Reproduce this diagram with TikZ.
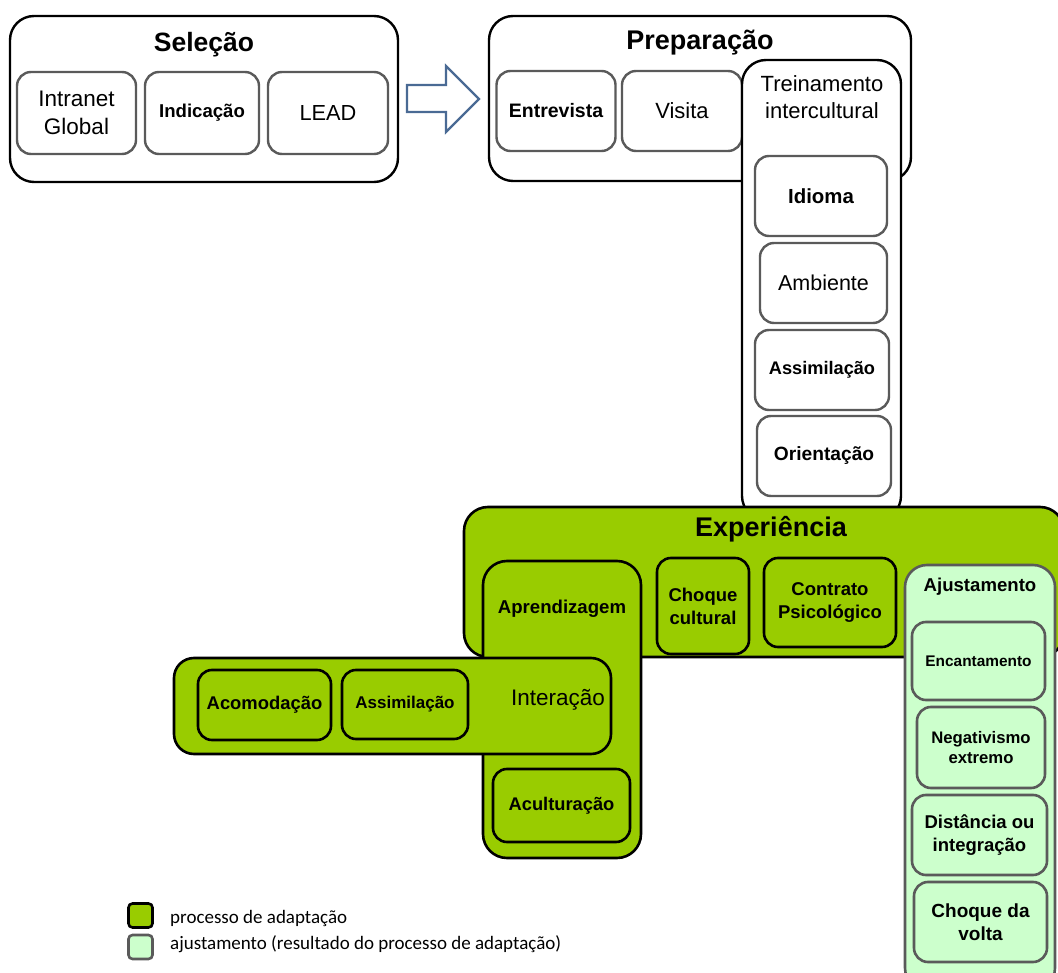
\documentclass[tikz,border=0pt]{standalone}
\usepackage{fontspec}
\setmainfont{Liberation Sans}
\newfontfamily\legfont{Carlito}
\definecolor{grn}{HTML}{99CC00}
\definecolor{lgrn}{HTML}{CCFFCC}
\definecolor{gry}{HTML}{5A5A5A}
\definecolor{arrblue}{HTML}{4A6A94}
\newcommand{\fs}[1]{\fontsize{#1}{1.24\dimexpr#1pt\relax}\selectfont}
\begin{document}
\begin{tikzpicture}[x=1pt,y=-1pt,
  outerbox/.style={draw=black, line width=2.4pt, fill=white, rounded corners=24pt, inner sep=0pt},
  innerbox/.style={draw=gry, line width=2.4pt, fill=white, rounded corners=14pt, inner sep=0pt, align=center},
  greenbig/.style={draw=black, line width=2.6pt, fill=grn, rounded corners=24pt, inner sep=0pt},
  greenbox/.style={draw=black, line width=2.6pt, fill=grn, rounded corners=14pt, inner sep=0pt, align=center},
  ajbig/.style={draw=gry, line width=2.6pt, fill=lgrn, rounded corners=22pt, inner sep=0pt},
  ajbox/.style={draw=gry, line width=2.6pt, fill=lgrn, rounded corners=14pt, inner sep=0pt, align=center},
  lbl/.style={inner sep=0pt, align=center},
  legbox/.style={rounded corners=4pt, line width=2.6pt, minimum width=24pt, minimum height=24pt, inner sep=0pt}
]
\useasboundingbox (0,0) rectangle (1058,973);
\clip (0,0) rectangle (1058,973);

% Selecao
\node[outerbox, minimum width=388pt, minimum height=166pt] (sel) at (204,99) {};
\node[lbl, font=\fs{26.5}\bfseries] (selt) at (204,45) {Seleção};
\node[innerbox, minimum width=119pt, minimum height=82pt, font=\fs{22.5}] (intra) at (76.5,113) {Intranet\\Global};
\node[innerbox, minimum width=114pt, minimum height=82pt, font=\fs{18.6}\bfseries] (indic) at (202,113) {Indicação};
\node[innerbox, minimum width=120pt, minimum height=82pt, font=\fs{21.8}] (lead) at (328,113) {LEAD};

% arrow
\coordinate (a1) at (407,85);
\coordinate (a2) at (446,85);
\coordinate (a3) at (446,66);
\coordinate (a4) at (479,99);
\coordinate (a5) at (446,132);
\coordinate (a6) at (446,112);
\coordinate (a7) at (407,112);
\draw[arrblue, line width=2.2pt, fill=white, line join=miter] (a1) -- (a2) -- (a3) -- (a4) -- (a5) -- (a6) -- (a7) -- cycle;

% Preparacao
\node[outerbox, minimum width=422pt, minimum height=165pt] (prep) at (700,98.5) {};
\node[lbl, font=\fs{27}\bfseries] (prept) at (700,43) {Preparação};
\node[innerbox, minimum width=119pt, minimum height=80pt, font=\fs{19.5}\bfseries] (entr) at (556,111) {Entrevista};
\node[innerbox, minimum width=120pt, minimum height=80pt, font=\fs{22}] (visi) at (682,111) {Visita};

% Treinamento
\node[outerbox, minimum width=159pt, minimum height=460pt] (trein) at (821.5,290) {};
\node[lbl, font=\fs{22}] (treint) at (822,97) {Treinamento\\intercultural};
\node[innerbox, minimum width=132pt, minimum height=80pt, font=\fs{20.4}\bfseries] (idio) at (821,196) {Idioma};
\node[innerbox, minimum width=127pt, minimum height=80pt, font=\fs{21.5}] (ambi) at (823.5,283) {Ambiente};
\node[innerbox, minimum width=134pt, minimum height=80pt, font=\fs{18.2}\bfseries] (assi1) at (822,370) {Assimilação};
\node[innerbox, minimum width=134pt, minimum height=80pt, font=\fs{19.2}\bfseries] (orie) at (824,456) {Orientação};

% Experiencia
\node[greenbig, minimum width=600pt, minimum height=150pt] (exp) at (764,582) {};
\node[lbl, font=\fs{27}\bfseries] (expt) at (771,529) {Experiência};
\node[greenbig, minimum width=158pt, minimum height=297pt] (apre) at (562,709.5) {};
\node[lbl, font=\fs{18.6}\bfseries] (apret) at (562,609) {Aprendizagem};
\node[greenbig, minimum width=437pt, minimum height=96pt, rounded corners=20pt] (inter) at (392.5,706) {};
\node[lbl, font=\fs{22.5}] (intert) at (558,700) {Interação};
\node[greenbox, minimum width=133pt, minimum height=70pt, font=\fs{18.4}\bfseries] (acom) at (264.5,705) {Acomodação};
\node[greenbox, minimum width=126pt, minimum height=69pt, font=\fs{17}\bfseries] (assi2) at (405,704.5) {Assimilação};
\node[greenbox, minimum width=137pt, minimum height=73pt, font=\fs{18.3}\bfseries] (acul) at (561.5,805.5) {Aculturação};
\node[greenbox, minimum width=92pt, minimum height=96pt, font=\fs{18.5}\bfseries] (choq) at (703,606) {Choque\\cultural};
\node[greenbox, minimum width=132pt, minimum height=89pt, font=\fs{18.5}\bfseries] (cont) at (830,602.5) {Contrato\\Psicológico};

% Ajustamento
\node[ajbig, minimum width=150pt, minimum height=425pt] (ajus) at (980,777.5) {};
\node[lbl, font=\fs{18.6}\bfseries] (ajust) at (980,587) {Ajustamento};
\node[ajbox, minimum width=133pt, minimum height=78pt, font=\fs{15.4}\bfseries] (enca) at (978.5,661) {Encantamento};
\node[ajbox, minimum width=128pt, minimum height=81pt, font=\fs{16.7}\bfseries] (nega) at (981,747.5) {Negativismo\\extremo};
\node[ajbox, minimum width=135pt, minimum height=80pt, font=\fs{18.5}\bfseries] (dist) at (979.5,835) {Distância ou\\integração};
\node[ajbox, minimum width=133pt, minimum height=80pt, font=\fs{19}\bfseries] (volt) at (980.5,922) {Choque da\\volta};

% Legend
\node[legbox, draw=black, fill=grn] (leg1) at (140.5,915.5) {};
\node[legbox, draw=gry, fill=lgrn] (leg2) at (140.5,947) {};
\node[anchor=west, inner sep=0pt, font=\legfont\fs{19}] (leg1t) at (170,918) {processo de adaptação};
\node[anchor=west, inner sep=0pt, font=\legfont\fs{19}] (leg2t) at (170,944) {ajustamento (resultado do processo de adaptação)};
\end{tikzpicture}
\end{document}
